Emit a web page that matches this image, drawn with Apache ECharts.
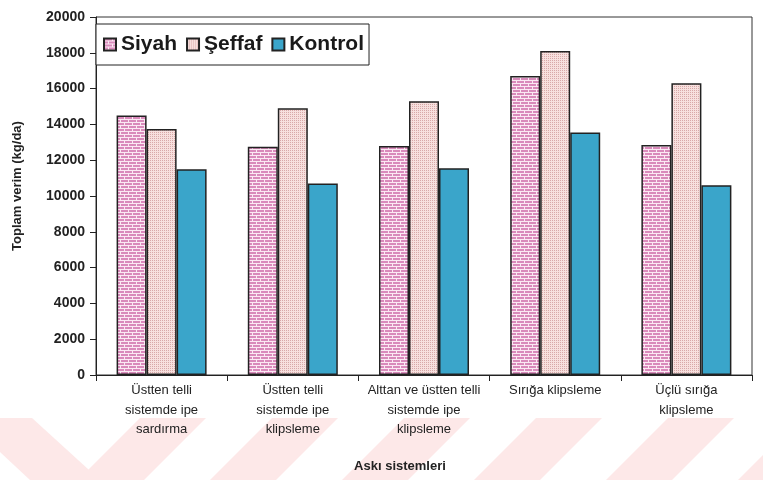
<!DOCTYPE html>
<html>
<head>
<meta charset="utf-8">
<script src="https://cdn.jsdelivr.net/npm/echarts@6/dist/echarts.min.js"></script>
<style>html,body{margin:0;padding:0;background:#fff;}#c{width:763px;height:480px;}</style>
</head>
<body>
<div id="c"></div>
<script>
// ---- data ----
var categories = [
  'Üstten telli\nsistemde ipe\nsardırma',
  'Üstten telli\nsistemde ipe\nklipsleme',
  'Alttan ve üstten telli\nsistemde ipe\nklipsleme',
  'Sırığa klipsleme',
  'Üçlü sırığa\nklipsleme'
];
var seriesNames = ['Siyah', 'Şeffaf', 'Kontrol'];
var siyah   = [14500, 12750, 12800, 16700, 12850];
var seffaf  = [13750, 14900, 15300, 18100, 16300];
var kontrol = [11500, 10700, 11550, 13550, 10600];
var yTicks = [0, 2000, 4000, 6000, 8000, 10000, 12000, 14000, 16000, 18000, 20000];

// ---- patterns ----
function brickPattern() {
  var c = document.createElement('canvas'); c.width = 8; c.height = 6;
  var g = c.getContext('2d');
  g.fillStyle = '#d98abb'; g.fillRect(0, 0, 8, 6);
  g.fillStyle = '#fbe9f3';
  g.fillRect(0, 2, 8, 1); g.fillRect(0, 5, 8, 1);
  g.fillRect(0, 0, 1, 2); g.fillRect(4, 3, 1, 2);
  return c;
}
function dotPattern() {
  var c = document.createElement('canvas'); c.width = 4; c.height = 4;
  var g = c.getContext('2d');
  g.fillStyle = '#f7e0de'; g.fillRect(0, 0, 4, 4);
  g.fillStyle = '#d8a8a8';
  g.fillRect(0, 0, 1, 1); g.fillRect(2, 2, 1, 1);
  g.fillRect(2, 0, 1, 1); g.fillRect(0, 2, 1, 1);
  return c;
}
var fills = [
  { image: brickPattern(), repeat: 'repeat' },
  { image: dotPattern(), repeat: 'repeat' },
  '#3aa5ca'
];

var FONT = '"Liberation Sans", Arial, sans-serif';
var NARROW = '"Liberation Sans Narrow", "Liberation Sans", Arial, sans-serif';

// watermark stripes (background decoration)
var stripes = [];
var stripeColor = '#fde8e8';
stripes.push({ type: 'polygon', z: -10, silent: true,
  shape: { points: [[0, 418], [32, 418], [100, 480], [30, 480], [0, 452]] },
  style: { fill: stripeColor } });
[140, 272, 404, 536, 668, 800].forEach(function (x0) {
  stripes.push({ type: 'polygon', z: -10, silent: true,
    shape: { points: [[x0, 418], [x0 + 66, 418], [x0 + 4, 480], [x0 - 62, 480]] },
    style: { fill: stripeColor } });
});

var chart = echarts.init(document.getElementById('c'), null, { renderer: 'canvas' });
var data = [siyah, seffaf, kontrol];
chart.setOption({
  backgroundColor: '#ffffff',
  animation: false,
  graphic: stripes,
  legend: {
    data: seriesNames,
    icon: 'rect',
    left: 96, top: 24,
    orient: 'horizontal',
    padding: [10, 5, 10, 7],
    itemWidth: 12, itemHeight: 12, itemGap: 9,
    backgroundColor: '#ffffff',
    borderColor: '#222', borderWidth: 1,
    textStyle: { fontFamily: FONT, fontWeight: 'bold', fontSize: 21, color: '#1a1a1a' }
  },
  grid: {
    left: 96, right: 11, top: 17, bottom: 105,
    show: true, borderColor: '#333', borderWidth: 1, backgroundColor: 'transparent'
  },
  xAxis: {
    type: 'category',
    data: categories,
    name: 'Askı sistemleri',
    nameLocation: 'middle',
    nameGap: 85,
    nameTextStyle: { fontFamily: NARROW, fontWeight: 'bold', fontSize: 13, color: '#222', padding: [0, 48, 0, 0] },
    axisLine: { lineStyle: { color: '#222', width: 1 } },
    axisTick: { show: true, alignWithLabel: false, length: 6, lineStyle: { color: '#222' } },
    axisLabel: { interval: 0, margin: 6, fontFamily: NARROW, fontSize: 13, lineHeight: 19.5, color: '#222', align: 'center' }
  },
  yAxis: {
    type: 'value',
    min: 0, max: 20000, interval: 2000,
    name: 'Toplam verim (kg/da)',
    nameLocation: 'middle',
    nameGap: 72,
    nameTextStyle: { fontFamily: FONT, fontWeight: 'bold', fontSize: 13, color: '#222', padding: [0, 0, 0, 20] },
    axisLine: { show: true, lineStyle: { color: '#222', width: 1 } },
    axisTick: { show: true, length: 6, lineStyle: { color: '#222' } },
    splitLine: { show: false },
    axisLabel: {
      margin: 11, fontFamily: FONT, fontWeight: 'bold', fontSize: 14, color: '#222',
      formatter: function (v) { return yTicks.indexOf(v) >= 0 ? String(v) : ''; }
    }
  },
  series: seriesNames.map(function (n, i) {
    return {
      name: n, type: 'bar',
      data: data[i],
      barWidth: 30,
      barGap: '0%',
      itemStyle: { color: fills[i], borderColor: '#222', borderWidth: 1.5 }
    };
  })
});
</script>
</body>
</html>
